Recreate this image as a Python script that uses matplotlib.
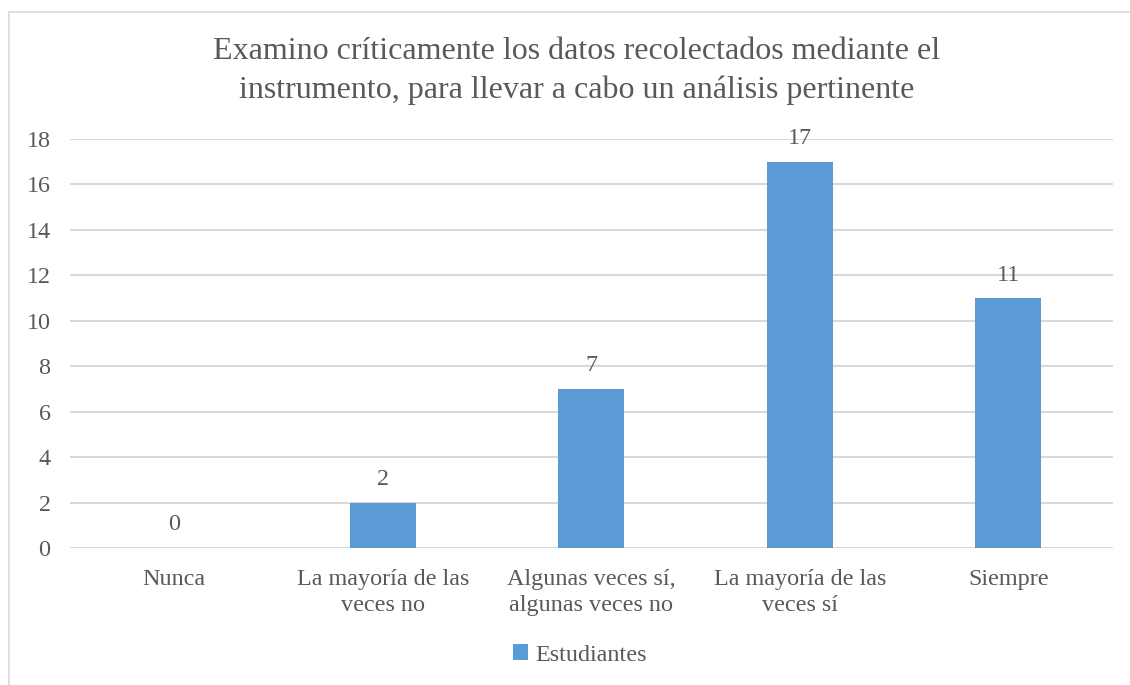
import matplotlib
matplotlib.use("Agg")
import matplotlib.pyplot as plt
from matplotlib.patches import Rectangle

categories = ["Nunca", "La mayoría de las\nveces no", "Algunas veces sí,\nalgunas veces no",
              "La mayoría de las\nveces sí", "Siempre"]
values = [0, 2, 7, 17, 11]
series_name = "Estudiantes"
title = "Examino críticamente los datos recolectados mediante el\ninstrumento, para llevar a cabo un análisis pertinente"
yticks = [0, 2, 4, 6, 8, 10, 12, 14, 16, 18]

plt.rcParams['font.family'] = ['Liberation Serif', 'DejaVu Serif']
txt = '#595959'
bar_color = '#5b9bd5'
grid_color = '#d9d9d9'
fs = 17.4

fig = plt.figure(figsize=(11.3, 6.85), dpi=100)
fig.patches.append(Rectangle((9/1130, -0.1), 1.2, 1 - 12/685 + 0.1, transform=fig.transFigure,
                             fill=False, edgecolor='#d9d9d9', linewidth=1.2))
ax = fig.add_axes([70/1130, 1 - 548/685, (1112.5 - 70)/1130, (548 - 139)/685])
x = list(range(len(categories)))
bars = ax.bar(x, values, width=0.315, color=bar_color, label=series_name, zorder=3)
ax.set_xlim(-0.5, len(categories) - 0.5)
ax.set_ylim(0, 18)
ax.set_yticks(yticks)
ax.set_yticklabels([str(t) for t in yticks], fontsize=fs, color=txt)
ax.set_xticks(x)
ax.set_xticklabels(categories, fontsize=fs, color=txt, linespacing=1.3)
ax.tick_params(axis='both', length=0)
ax.tick_params(axis='y', pad=14)
ax.tick_params(axis='x', pad=15)
ax.grid(axis='y', color=grid_color, linewidth=1.5, zorder=0)
for s in ax.spines.values():
    s.set_visible(False)
for xi, v in zip(x, values):
    ax.annotate(str(v), (xi, v), xytext=(0, 9), textcoords='offset points',
                ha='center', va='bottom', fontsize=fs, color=txt)

fig.text(577/1130, 1 - 71/685, title, ha='center', va='center', fontsize=23,
         color=txt, linespacing=1.42)

leg = fig.legend(handles=[bars], labels=[series_name], loc='center',
                 bbox_to_anchor=(580/1130, 1 - 655/685), frameon=False, fontsize=fs,
                 handlelength=0.65, handleheight=0.65, handletextpad=0.3)
for t in leg.get_texts():
    t.set_color(txt)

fig.savefig("out.png", dpi=100, facecolor='white')
